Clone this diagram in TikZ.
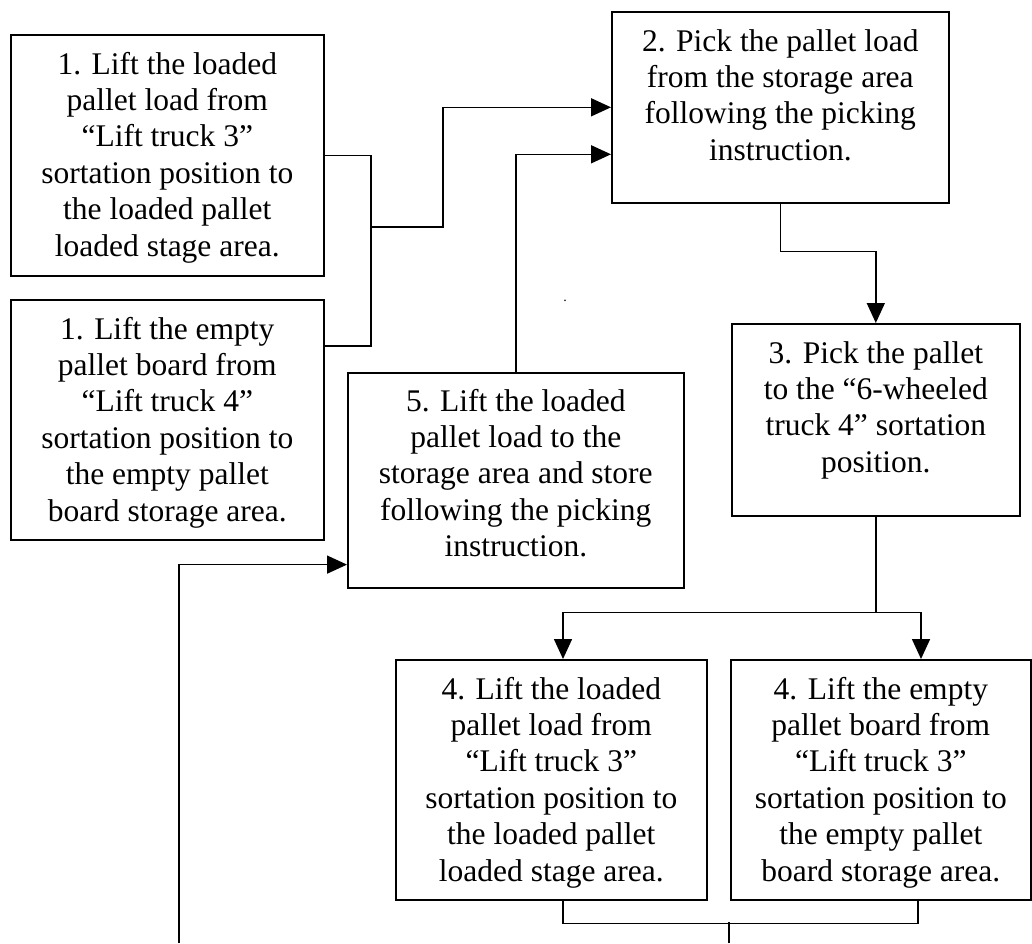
\documentclass[tikz,border=0pt]{standalone}
\usepackage{fontspec}
\setmainfont{Liberation Serif}
\usetikzlibrary{arrows.meta,calc}
\begin{document}
\begin{tikzpicture}[x=1pt,y=-1pt,
  box/.style={draw, line width=1.6pt, inner sep=0pt, anchor=north west},
  txt/.style={anchor=base, inner sep=0pt, font=\fontsize{31.5}{36.4}\selectfont},
  conn/.style={line width=1.6pt},
  arr/.style={conn, -{Triangle[length=20pt,width=18pt]}}]
\useasboundingbox (0,0) rectangle (1032,943);
% boxes
\node[box, minimum width=313pt, minimum height=241pt] (b1a) at (10,34) {};
\node[box, minimum width=313pt, minimum height=240pt] (b1b) at (10,299) {};
\node[box, minimum width=337pt, minimum height=191pt] (b2) at (611,11) {};
\node[box, minimum width=288pt, minimum height=192pt] (b3) at (731,323) {};
\node[box, minimum width=336pt, minimum height=215pt] (b5) at (347,372) {};
\node[box, minimum width=311pt, minimum height=240pt] (b4a) at (395,659) {};
\node[box, minimum width=300pt, minimum height=240pt] (b4b) at (730,659) {};
% texts
\node[txt] (t1a) at ($(b1a.north)+(0,40)$) {\begin{tabular}[t]{@{}c@{}}1. Lift the loaded\\ pallet load from\\ “Lift truck 3”\\ sortation position to\\ the loaded pallet\\ loaded stage area.\end{tabular}};
\node[txt] (t1b) at ($(b1b.north)+(0,40)$) {\begin{tabular}[t]{@{}c@{}}1. Lift the empty\\ pallet board from\\ “Lift truck 4”\\ sortation position to\\ the empty pallet\\ board storage area.\end{tabular}};
\node[txt] (t2) at ($(b2.north)+(0,40)$) {\begin{tabular}[t]{@{}c@{}}2. Pick the pallet load\\ from the storage area\\ following the picking\\ instruction.\end{tabular}};
\node[txt] (t3) at ($(b3.north)+(0,40)$) {\begin{tabular}[t]{@{}c@{}}3. Pick the pallet\\ to the “6-wheeled\\ truck 4” sortation\\ position.\end{tabular}};
\node[txt] (t5) at ($(b5.north)+(0,39)$) {\begin{tabular}[t]{@{}c@{}}5. Lift the loaded\\ pallet load to the\\ storage area and store\\ following the picking\\ instruction.\end{tabular}};
\node[txt] (t4a) at ($(b4a.north)+(0,40)$) {\begin{tabular}[t]{@{}c@{}}4. Lift the loaded\\ pallet load from\\ “Lift truck 3”\\ sortation position to\\ the loaded pallet\\ loaded stage area.\end{tabular}};
\node[txt] (t4b) at ($(b4b.north)+(0,40)$) {\begin{tabular}[t]{@{}c@{}}4. Lift the empty\\ pallet board from\\ “Lift truck 3”\\ sortation position to\\ the empty pallet\\ board storage area.\end{tabular}};
\node[txt, font=\fontsize{14}{16}\selectfont] (dot) at (565,301) {.};
% connectors
\coordinate (j1) at (371,227);
\coordinate (j1b) at (443,227);
\draw[conn] (b1a.east) -| (j1);
\draw[conn] ($(b1b.north east)+(0,47)$) -| (j1);
\draw[arr] (j1) -- (j1b) |- (b2.west);
\draw[arr] (b5.north) |- ($(b2.west)+(0,47)$);
\draw[arr] (b2.south) -- ++(0,48) -| (b3.north);
\coordinate (s) at ($(b3.south)+(0,96)$);
\draw[conn] (b3.south) -- (s);
\draw[arr] (s) -| ($(b4a.north west)+(168,0)$);
\draw[arr] (s) -| ($(b4b.north west)+(191,0)$);
\draw[conn] ($(b4a.south west)+(168,0)$) -- ++(0,23) -| ($(b4b.south west)+(188,0)$);
\coordinate (bot) at (729,943);
\coordinate (botj) at (729,922);
\draw[conn] (bot) -- (botj);
\coordinate (lb) at (179,943);
\draw[arr] (lb) |- ($(b5.south west)+(0,-24)$);
\end{tikzpicture}
\end{document}
